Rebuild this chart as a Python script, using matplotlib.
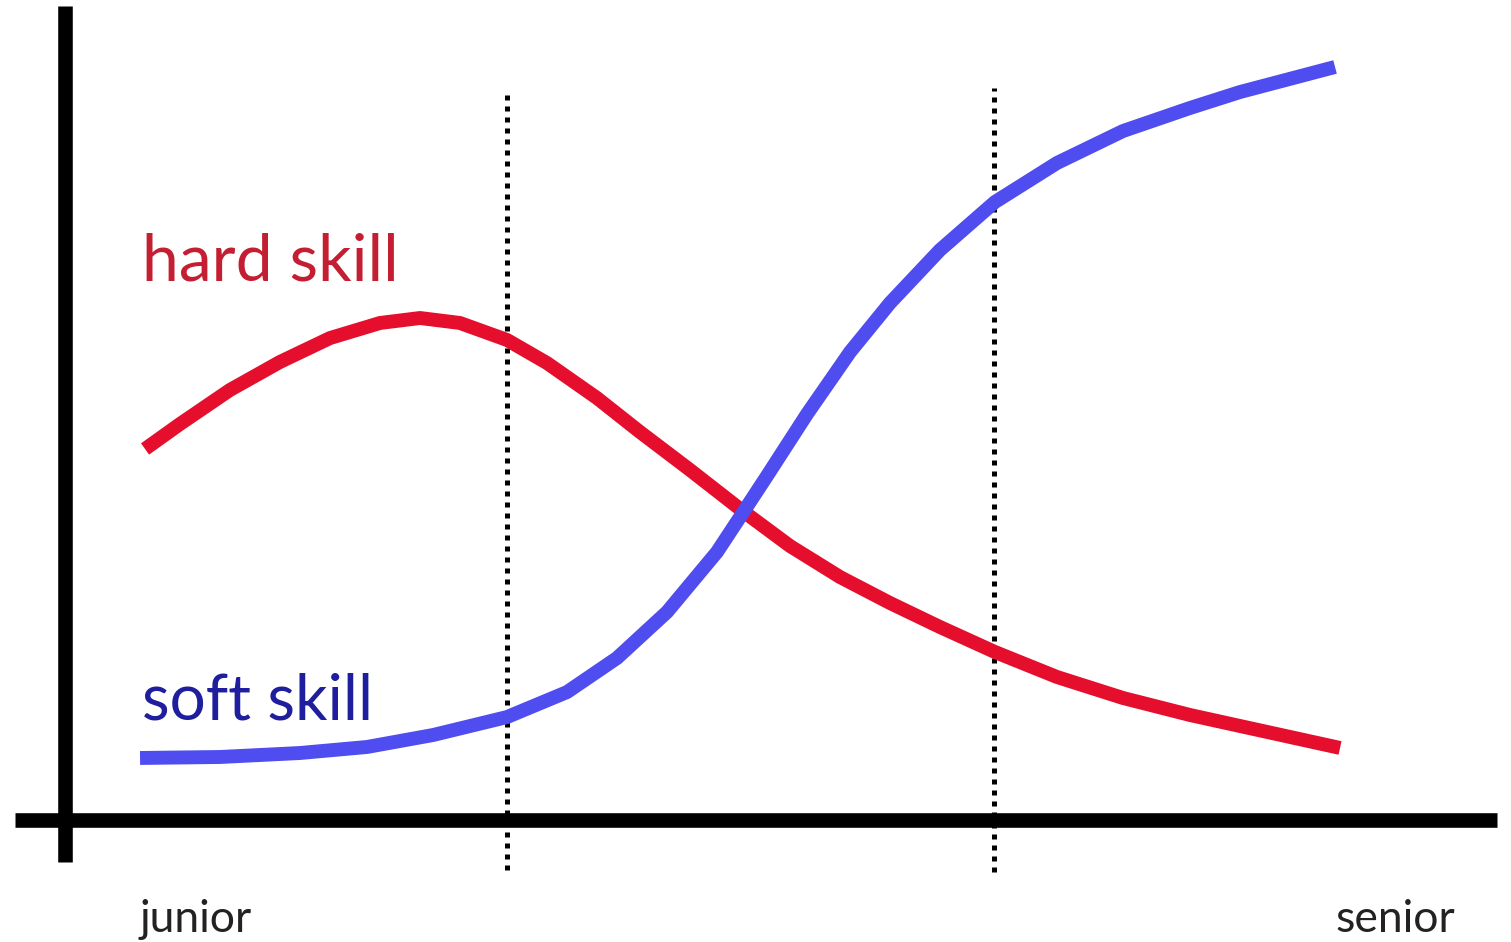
import matplotlib
matplotlib.use("Agg")
import matplotlib.pyplot as plt

# Career stage (x) and skill importance (y)
red_x = [5.59, 8.03, 11.52, 15.01, 18.51, 22.00, 24.79, 27.58, 30.87, 33.66, 37.15, 40.15,
         43.65, 47.14, 50.63, 54.12, 57.61, 61.10, 64.94, 69.27, 73.88, 78.56, 82.05, 89.04]
red_y = [45.58, 48.65, 52.83, 56.27, 59.21, 61.06, 61.67, 61.06, 58.97, 56.14, 51.84, 47.67,
         43.00, 38.21, 33.66, 29.85, 26.66, 23.71, 20.64, 17.57, 14.99, 12.90, 11.55, 8.85]

blue_x = [5.24, 10.82, 16.41, 21.09, 25.70, 30.87, 35.06, 38.55, 42.04, 45.53, 47.28, 49.02,
          51.82, 54.82, 57.61, 61.10, 64.94, 69.27, 73.88, 78.56, 82.05, 88.69]
blue_y = [7.62, 7.74, 8.23, 8.97, 10.44, 12.65, 15.72, 19.90, 25.55, 32.92, 37.59, 42.26,
          49.88, 57.49, 63.51, 70.02, 75.92, 80.71, 84.64, 87.47, 89.43, 92.51]

stage_lines = [30.9, 64.9]
series_labels = ["hard skill", "soft skill"]
axis_labels = ["junior", "senior"]

RED = "#E50E2D"
BLUE = "#4F4CF0"
RED_TXT = "#C41E32"
BLUE_TXT = "#1E1E9E"

fig = plt.figure(figsize=(15.11, 9.42), dpi=100)
ax = fig.add_axes([0, 0, 1, 1])
ax.set_xlim(-65 / 14.32, (1511 - 65) / 14.32)
ax.set_ylim(-122 / 8.14, (942 - 122) / 8.14)
ax.axis("off")

# axes lines
ax.plot([-3.49, 100], [0, 0], color="black", lw=10.5, solid_capstyle="butt", zorder=2)
ax.plot([0, 0], [-5.16, 100], color="black", lw=10.5, solid_capstyle="butt", zorder=2)

# dotted stage separators
for sx, top, bot in zip(stage_lines, [89.1, 89.9], [-6.1, -6.4]):
    ax.plot([sx, sx], [bot, top], color="black", lw=3.6, linestyle=(0, (1, 1.2)),
            dash_capstyle="butt", zorder=3)

ax.plot(red_x, red_y, color=RED, lw=10, solid_capstyle="butt", solid_joinstyle="round", zorder=4)
ax.plot(blue_x, blue_y, color=BLUE, lw=10, solid_capstyle="butt", solid_joinstyle="round", zorder=5)

ax.text(5.4, 66.3, series_labels[0], color=RED_TXT, fontsize=47.5, family="Lato", va="baseline", ha="left")
ax.text(5.4, 12.3, series_labels[1], color=BLUE_TXT, fontsize=46, family="Lato", va="baseline", ha="left")
ax.text(5.2, -13.8, axis_labels[0], color="#222222", fontsize=32, family="Lato", va="baseline", ha="left")
ax.text(88.7, -13.8, axis_labels[1], color="#222222", fontsize=32, family="Lato", va="baseline", ha="left")

fig.savefig("out.png", dpi=100, facecolor="white")
